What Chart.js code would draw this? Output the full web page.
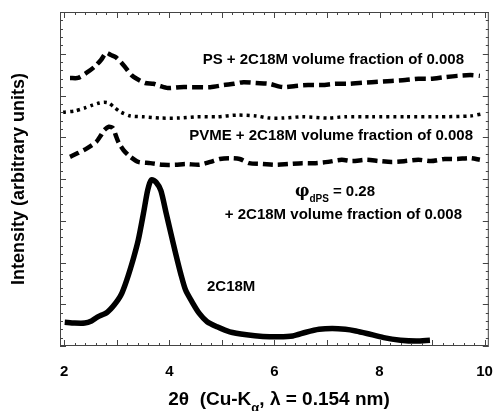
<!DOCTYPE html>
<html>
<head>
<meta charset="utf-8">
<script src="https://cdn.jsdelivr.net/npm/chart.js@4.4.0/dist/chart.umd.min.js"></script>
<style>
  html, body { margin: 0; padding: 0; background: #fff; }
</style>
</head>
<body>
<canvas id="xrdChart" width="502" height="411"></canvas>
<script>
// 2theta (deg) / intensity (arb. units, stacked offsets)
let ps_theta = [2.11, 2.26, 2.42, 2.57, 2.70, 2.80, 2.89, 2.98, 3.08, 3.17, 3.28, 3.38, 3.54, 3.70, 3.82, 3.97,
  4.20, 4.44, 4.78, 5.04, 5.23, 5.41, 5.65, 5.90, 6.16, 6.40, 6.64, 6.91, 7.15, 7.43, 7.61, 7.85,
  8.23, 8.49, 8.74, 8.98, 9.24, 9.48, 9.73, 9.91]
let ps_int = [6.42, 6.42, 6.54, 6.68, 6.85, 7.02, 6.97, 6.92, 6.80, 6.66, 6.49, 6.40, 6.30, 6.28, 6.23, 6.18,
  6.20, 6.20, 6.20, 6.25, 6.28, 6.32, 6.30, 6.28, 6.20, 6.23, 6.25, 6.25, 6.28, 6.28, 6.30, 6.32,
  6.35, 6.37, 6.40, 6.40, 6.44, 6.47, 6.49, 6.47]

let blend_theta = [1.98, 2.20, 2.39, 2.54, 2.67, 2.76, 2.85, 2.95, 3.08, 3.26, 3.51, 3.82, 4.20, 4.53, 4.91,
  5.28, 5.65, 5.90, 6.16, 6.53, 7.02, 7.34, 7.85, 8.49, 9.11, 9.73, 9.95]
let blend_int = [5.60, 5.63, 5.70, 5.77, 5.82, 5.84, 5.82, 5.72, 5.60, 5.51, 5.49, 5.46, 5.46, 5.49, 5.49,
  5.53, 5.51, 5.46, 5.46, 5.49, 5.46, 5.49, 5.49, 5.49, 5.49, 5.51, 5.56]

let pvme_theta = [2.11, 2.26, 2.44, 2.61, 2.70, 2.76, 2.85, 2.93, 2.98, 3.04, 3.13, 3.26, 3.41, 3.64, 3.88,
  4.12, 4.31, 4.57, 4.78, 4.96, 5.15, 5.34, 5.52, 5.78, 6.03, 6.27, 6.53, 6.78, 7.02, 7.28,
  7.48, 7.75, 7.99, 8.23, 8.49, 8.74, 8.98, 9.24, 9.48, 9.73, 9.91]
let pvme_int = [4.53, 4.62, 4.74, 4.89, 5.05, 5.17, 5.25, 5.22, 5.05, 4.86, 4.69, 4.53, 4.41, 4.38, 4.34,
  4.34, 4.36, 4.34, 4.41, 4.48, 4.50, 4.48, 4.38, 4.36, 4.34, 4.36, 4.38, 4.38, 4.41, 4.46,
  4.43, 4.46, 4.43, 4.41, 4.43, 4.46, 4.43, 4.48, 4.48, 4.50, 4.46]

let c18_theta = [2.01, 2.20, 2.39, 2.52, 2.63, 2.82, 2.95, 3.08, 3.19, 3.32, 3.41, 3.51, 3.59, 3.66, 3.75,
  3.84, 3.94, 4.03, 4.12, 4.22, 4.31, 4.44, 4.57, 4.72, 4.91, 5.15, 5.47, 5.78, 6.08, 6.35,
  6.60, 6.85, 7.10, 7.35, 7.55, 7.76, 8.08, 8.40, 8.70, 8.96]
let c18_int = [0.57, 0.55, 0.55, 0.60, 0.69, 0.81, 0.98, 1.22, 1.58, 2.11, 2.54, 3.19, 3.74, 3.98, 3.92,
  3.72, 3.18, 2.70, 2.22, 1.72, 1.34, 1.04, 0.78, 0.58, 0.46, 0.34, 0.27, 0.23, 0.22, 0.24,
  0.33, 0.40, 0.42, 0.40, 0.36, 0.30, 0.20, 0.14, 0.12, 0.14]

let x_labels = [2, 4, 6, 8, 10]

let xTicks = []
for (let i = 0; i <= 40; i++) xTicks.push((10 + i) / 5)
let yTicks = []
for (let i = 0; i <= 40; i++) yTicks.push(i / 5)

function pts(xs, ys) {
  return xs.map((v, i) => ({x: v, y: ys[i]}))
}

const FONT = '"Liberation Sans", Arial, sans-serif'

// inward ticks on all four sides plus the frame
const frameTicks = {
  id: 'frameTicks',
  afterDatasetsDraw(chart) {
    const {ctx, chartArea: a, scales: {x, y}} = chart
    ctx.save()
    ctx.strokeStyle = '#444'
    ctx.lineWidth = 1
    ctx.strokeRect(a.left + 0.5, a.top + 0.5, a.right - a.left - 1, a.bottom - a.top - 1)
    ctx.beginPath()
    x.ticks.forEach(t => {
      let px = Math.round(x.getPixelForValue(t.value)) + 0.5
      let len = Number.isInteger(t.value) ? 6 : 3
      ctx.moveTo(px, a.bottom); ctx.lineTo(px, a.bottom - len)
      ctx.moveTo(px, a.top); ctx.lineTo(px, a.top + len)
    })
    y.ticks.forEach(t => {
      let py = Math.round(y.getPixelForValue(t.value)) + 0.5
      let len = Number.isInteger(t.value) ? 6 : 3
      ctx.moveTo(a.left, py); ctx.lineTo(a.left + len, py)
      ctx.moveTo(a.right, py); ctx.lineTo(a.right - len, py)
    })
    ctx.stroke()
    ctx.restore()
  }
}

// curve labels and the x axis title (needs a subscript)
const labels = {
  id: 'labels',
  afterDraw(chart) {
    const ctx = chart.ctx
    ctx.save()
    ctx.fillStyle = '#000'
    ctx.textBaseline = 'middle'
    ctx.textAlign = 'right'
    ctx.font = 'bold 15px ' + FONT
    ctx.fillText('PS + 2C18M volume fraction of 0.008', 464, 60)
    ctx.fillText('PVME + 2C18M volume fraction of 0.008', 473, 136)
    ctx.fillText('+ 2C18M volume fraction of 0.008', 462, 215)
    ctx.textAlign = 'left'
    ctx.fillText('2C18M', 207, 287)

    // phi_dPS = 0.28, right end at 375
    ctx.textBaseline = 'alphabetic'
    ctx.font = 'bold 15px ' + FONT
    let eq = '= 0.28', weq = ctx.measureText(eq).width
    ctx.font = 'bold 10px ' + FONT
    let wd = ctx.measureText('dPS').width
    ctx.font = 'bold 16px "DejaVu Serif", serif'
    let wp = ctx.measureText('\u03c6').width
    let xe = 375 - weq, xd = xe - 4 - wd, xp = xd - wp
    ctx.fillText('\u03c6', xp, 196)
    ctx.font = 'bold 10px ' + FONT
    ctx.fillText('dPS', xd, 202)
    ctx.font = 'bold 15px ' + FONT
    ctx.fillText(eq, xe, 196)

    // x title
    let a = '2\u03b8  (Cu-K', sub = '\u03b1', b = ', \u03bb = 0.154 nm)'
    ctx.font = 'bold 19px ' + FONT
    let wa = ctx.measureText(a).width, wb = ctx.measureText(b).width
    ctx.font = 'bold 13px ' + FONT
    let ws = ctx.measureText(sub).width
    let x0 = 279 - (wa + ws + wb) / 2
    ctx.font = 'bold 19px ' + FONT
    ctx.fillText(a, x0, 405)
    ctx.fillText(b, x0 + wa + ws, 405)
    ctx.font = 'bold 13px ' + FONT
    ctx.fillText(sub, x0 + wa, 412)
    ctx.restore()
  }
}

const ctx = document.getElementById('xrdChart').getContext('2d')

new Chart(ctx, {
  type: 'line',
  data: {
    datasets: [
      {label: 'PS', data: pts(ps_theta, ps_int), borderColor: '#000', borderWidth: 4.5,
        borderDash: [11, 5], tension: 0.25},
      {label: 'dPS blend', data: pts(blend_theta, blend_int), borderColor: '#000', borderWidth: 3.5,
        borderDash: [3, 4], tension: 0.25},
      {label: 'PVME', data: pts(pvme_theta, pvme_int), borderColor: '#000', borderWidth: 4.5,
        borderDash: [10, 5], tension: 0.25},
      {label: '2C18M', data: pts(c18_theta, c18_int), borderColor: '#000', borderWidth: 5.5,
        tension: 0.25}
    ]
  },
  options: {
    responsive: false,
    animation: false,
    layout: {padding: {top: 12, right: 5}},
    elements: {point: {radius: 0}},
    plugins: {legend: {display: false}, tooltip: {enabled: false}},
    scales: {
      x: {
        type: 'linear', min: 1.92, max: 10.08,
        afterBuildTicks: s => { s.ticks = xTicks.map(v => ({value: v})) },
        afterFit: s => { s.height = 65 },
        grid: {display: false},
        border: {display: false},
        ticks: {
          autoSkip: false, maxRotation: 0, padding: 9, color: '#000',
          font: {family: FONT, size: 15, weight: 'bold'},
          callback: v => x_labels.includes(v) ? String(v) : ''
        }
      },
      y: {
        type: 'linear', min: 0, max: 8,
        afterBuildTicks: s => { s.ticks = yTicks.map(v => ({value: v})) },
        afterFit: s => { s.width = 60 },
        grid: {display: false},
        border: {display: false},
        ticks: {display: false},
        title: {
          display: true, text: 'Intensity (arbitrary units)', color: '#000',
          font: {family: FONT, size: 18, weight: 'bold'}, padding: {top: 8}
        }
      }
    }
  },
  plugins: [frameTicks, labels]
})
</script>
</body>
</html>
